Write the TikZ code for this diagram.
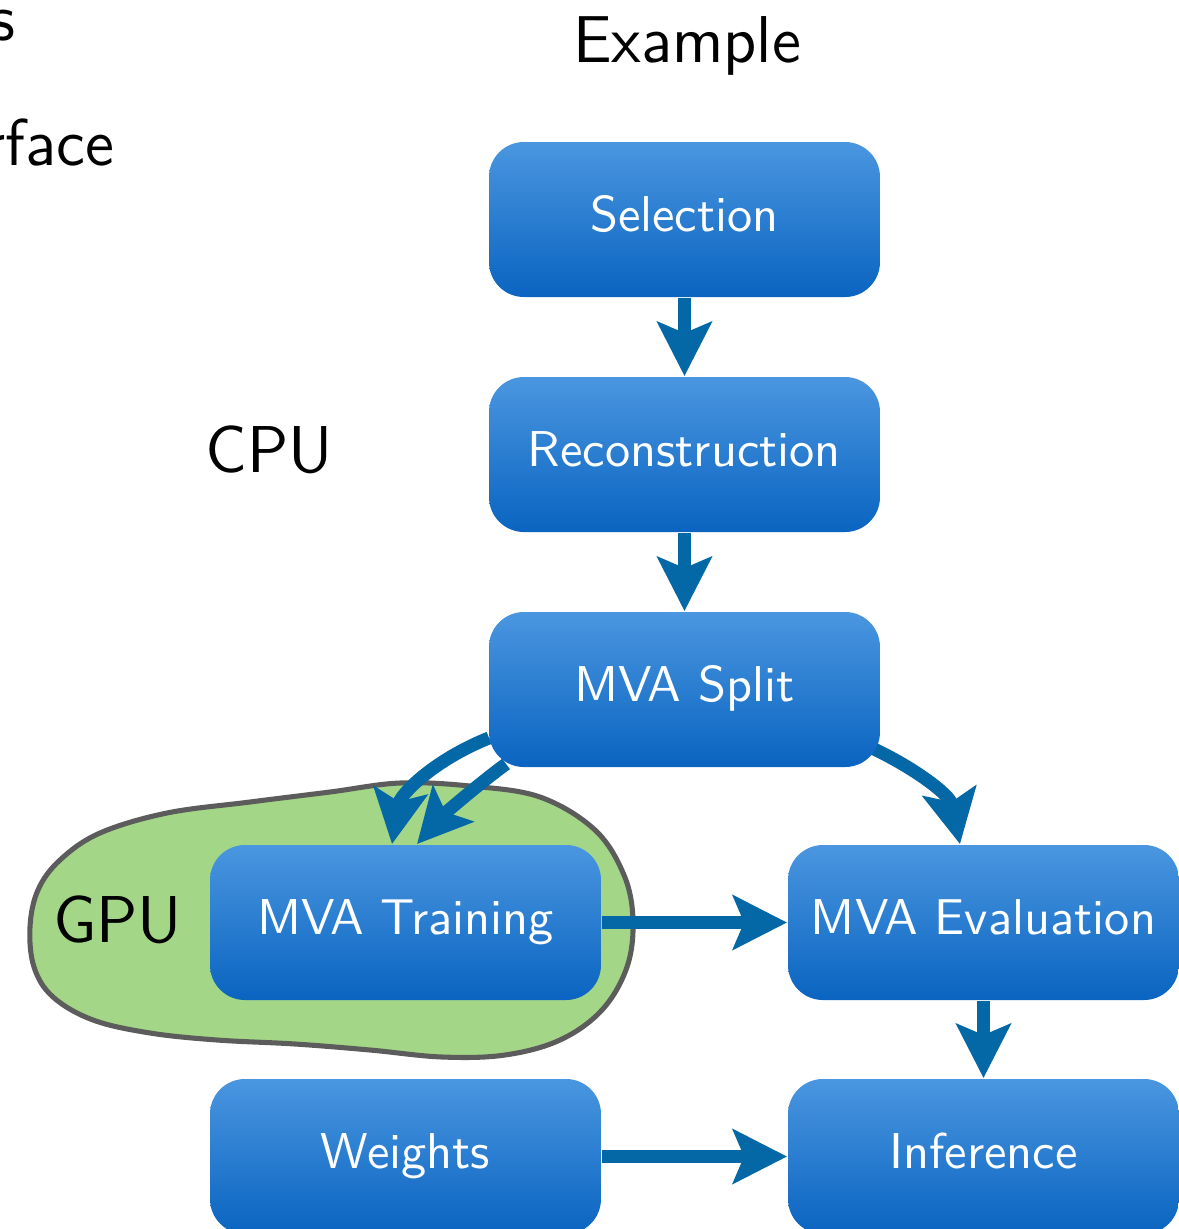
\documentclass[tikz,border=0pt]{standalone}
\usepackage{tikz}
\usetikzlibrary{arrows.meta,calc}
\definecolor{boxtop}{RGB}{74,150,224}
\definecolor{boxbot}{RGB}{10,100,192}
\definecolor{arrblue}{RGB}{4,104,166}
\definecolor{gpugreen}{RGB}{164,214,136}
\definecolor{gpuborder}{RGB}{92,92,92}
\pgfdeclarelayer{blob}
\pgfdeclarelayer{arrows}
\pgfsetlayers{blob,arrows,main}
\begin{document}
\begin{tikzpicture}[x={(0.217391pt,0pt)}, y={(0pt,-0.217391pt)},
  flowbox/.style={rectangle, rounded corners=7.6pt, top color=boxtop, bottom color=boxbot,
    minimum width=85pt, minimum height=33.7pt, inner sep=0pt, text=white,
    font=\sffamily\fontsize{10.95}{13}\selectfont, text height=7.6pt, text depth=2.2pt},
  flowarrow/.style={draw=arrblue, line width=2.83pt,
    -{Stealth[length=11.74pt,width=11.74pt,inset=2.4pt]}},
  biglabel/.style={font=\sffamily\fontsize{14.4}{17}\selectfont, inner sep=0pt, text=black}]
\useasboundingbox (0,0) rectangle (1179,1229);

% labels
\node[biglabel, anchor=base] (ex) at (687,62) {Example};
\node[biglabel, anchor=base] (cpu) at (269,472) {CPU};
\node[biglabel, anchor=base east] (fragA) at (16,40) {s};
\node[biglabel, anchor=base east] (fragB) at (115,165) {rface};

% GPU region
\begin{pgfonlayer}{blob}
\draw[fill=gpugreen, draw=gpuborder, line width=1.1pt]
  plot[smooth cycle, tension=0.6] coordinates {
  (30,927) (38,890) (60,860) (100,833) (167,813) (250,802) (330,792) (400,783) (470,786)
  (540,797) (595,830) (624,875) (633,920) (627,967) (602,1010) (560,1040)
  (505,1055) (442,1057) (370,1050) (295,1044) (217,1040) (150,1033) (93,1020) (53,997) (34,967)};
\end{pgfonlayer}
\node[biglabel, anchor=base] (gpu) at (117.5,942) {GPU};

% boxes
\node[flowbox] (sel) at (684.5,219.5) {Selection};
\node[flowbox] (rec) at (684.5,454.5) {Reconstruction};
\node[flowbox] (split) at (684.5,689.5) {MVA Split};
\node[flowbox] (train) at (405.5,922.5) {MVA Training};
\node[flowbox] (eval) at (983.5,922.5) {MVA Evaluation};
\node[flowbox] (weights) at (405.5,1156.5) {Weights};
\node[flowbox] (inf) at (983.5,1156.5) {Inference};

% arrows
\begin{pgfonlayer}{arrows}
\draw[flowarrow] (sel) -- (rec);
\draw[flowarrow] (rec) -- (split);
\draw[flowarrow] (train) -- (eval);
\draw[flowarrow] (eval) -- (inf);
\draw[flowarrow] (weights) -- (inf);
\coordinate (sA) at ($(split.south west)+(1,-30)$);
\coordinate (tA) at ($(train.north)+(-13.5,0)$);
\coordinate (sB) at ($(split.south west)+(18,-4)$);
\coordinate (tB) at ($(train.north)+(11.5,0)$);
\coordinate (sC) at ($(split.south east)+(-7,-19)$);
\coordinate (tC) at ($(eval.north)+(-23.5,0)$);
\draw[flowarrow] (sA) .. controls +(-55,22) and +(8,-50) .. (tA);
\draw[flowarrow] (sB) .. controls +(-30,22) and +(25,-28) .. (tB);
\draw[flowarrow] (sC) .. controls +(38,18) and +(-10,-50) .. (tC);
\end{pgfonlayer}
\end{tikzpicture}
\end{document}
